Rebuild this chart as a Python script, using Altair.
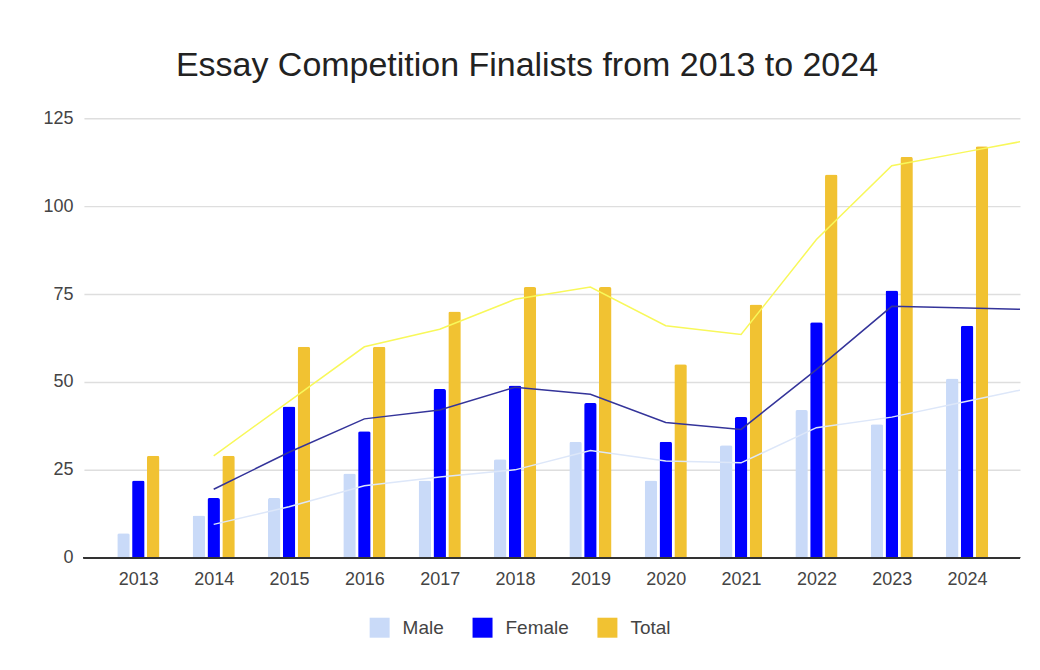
import altair as alt
import pandas as pd

years = list(range(2013, 2025))
male = [7, 12, 17, 24, 22, 28, 33, 22, 32, 42, 38, 51]
female = [22, 17, 43, 36, 48, 49, 44, 33, 40, 67, 76, 66]
total = [29, 29, 60, 60, 70, 77, 77, 55, 72, 109, 114, 117]
series_names = ["Male", "Female", "Total"]
y_ticks = [0, 25, 50, 75, 100, 125]

bar_colors = ["#c9daf8", "#0000ff", "#f1c232"]
trend_colors = ["#dde7f9", "#34349a", "#f8f85a"]
trend_widths = [1.5, 1.5, 2.5]

rows = []
for name, vals in zip(series_names, [male, female, total]):
    for yr, v in zip(years, vals):
        rows.append({"year": yr, "series": name, "value": v})
bars_df = pd.DataFrame(rows)

# moving-average (period 2) trendlines, extended one step beyond the last year
trend_rows = []
for name, vals in zip(series_names, [male, female, total]):
    ma = [(vals[i - 1] + vals[i]) / 2 for i in range(1, len(vals))]
    for yr, m in zip(years[1:], ma):
        trend_rows.append({"year": yr, "series": name, "trend": m})
    trend_rows.append({"year": years[-1] + 1, "series": name, "trend": 2 * ma[-1] - ma[-2]})
trend_df = pd.DataFrame(trend_rows)

FONT = "Liberation Sans"
xscale = alt.Scale(domain=[2012.344, 2024.636], nice=False, zero=False)
yscale = alt.Scale(domain=[0, 125], nice=False)

bars = alt.Chart(bars_df).transform_calculate(
    xpos="datum.year + (datum.series == 'Male' ? -0.197 : (datum.series == 'Total' ? 0.197 : 0))"
).mark_bar(width=12.5, cornerRadiusTopLeft=2, cornerRadiusTopRight=2).encode(
    x=alt.X("xpos:Q", scale=xscale, title=None,
            axis=alt.Axis(values=years, format="d", grid=False, domain=False, ticks=False,
                          labelFontSize=18, labelColor="#444444", labelPadding=13, labelFont=FONT)),
    y=alt.Y("value:Q", scale=yscale, title=None,
            axis=alt.Axis(values=y_ticks, grid=True, gridColor="#dedede", gridWidth=1.5,
                          domain=False, ticks=False, labelFontSize=18, labelColor="#444444",
                          labelPadding=11, labelFont=FONT)),
    fill=alt.Fill("series:N", scale=alt.Scale(domain=series_names, range=bar_colors),
                  legend=alt.Legend(title=None, orient="none", legendX=286, legendY=500,
                                    direction="horizontal", symbolType="square", symbolSize=400,
                                    symbolStrokeWidth=0, labelFontSize=19, labelFont=FONT,
                                    labelColor="#444444", labelOffset=13, columnPadding=28,
                                    padding=0)),
)

lines = alt.Chart(trend_df).mark_line(clip=True).encode(
    x=alt.X("year:Q", scale=xscale, title=None),
    y=alt.Y("trend:Q", scale=yscale, title=None),
    stroke=alt.Stroke("series:N", scale=alt.Scale(domain=series_names, range=trend_colors), legend=None),
    strokeWidth=alt.StrokeWidth("series:N", scale=alt.Scale(domain=series_names, range=trend_widths), legend=None),
)

baseline = alt.Chart(bars_df).mark_rule(color="#333333", strokeWidth=1.5).encode(y=alt.datum(0))

chart = alt.layer(bars, lines, baseline).properties(
    width=937,
    height=440,
    autosize=alt.AutoSizeParams(type="none"),
    padding={"left": 76, "top": 110, "right": 12, "bottom": 104},
    title=alt.Title("Essay Competition Finalists from 2013 to 2024", fontSize=34, font=FONT,
                    fontWeight="normal", color="#222222", anchor="middle", dx=-25, offset=26),
).resolve_scale(stroke="independent", strokeWidth="independent").configure(
    background="white", view=alt.ViewConfig(stroke=None, strokeWidth=0)
)

chart.save("out.html", embed_options={"renderer": "svg", "actions": False})
